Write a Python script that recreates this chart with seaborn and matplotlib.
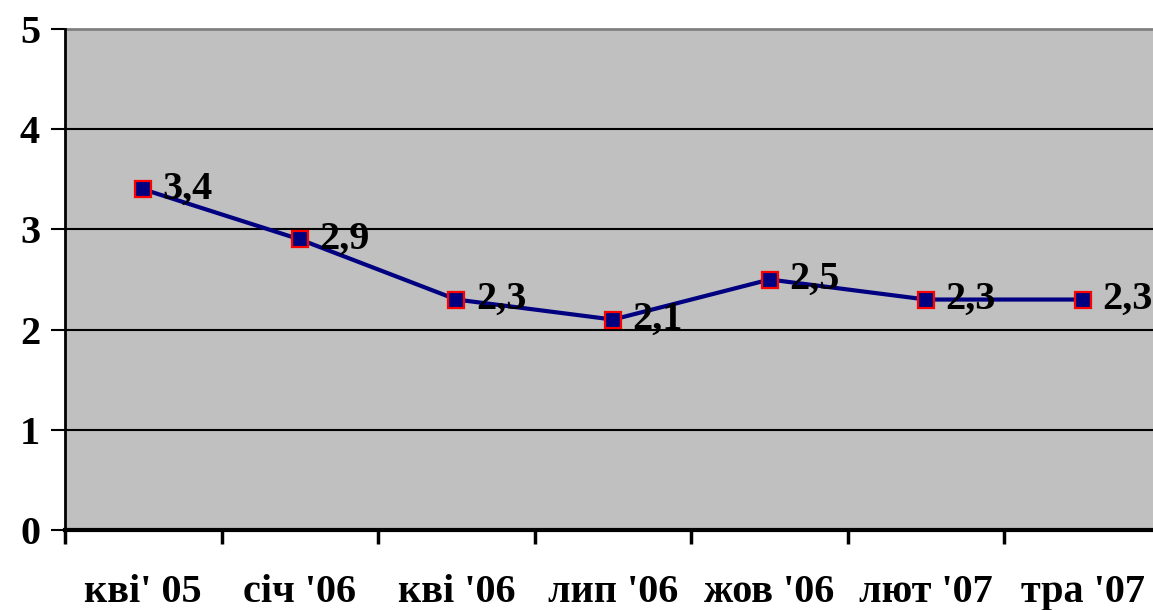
import numpy as np
import pandas as pd
import matplotlib
matplotlib.use("Agg")
import matplotlib.pyplot as plt
import seaborn as sns

# Dates and values of the series
periods = ["кві' 05", "січ '06", "кві '06", "лип '06", "жов '06", "лют '07", "тра '07"]
values = [3.4, 2.9, 2.3, 2.1, 2.5, 2.3, 2.3]
value_labels = ["3,4", "2,9", "2,3", "2,1", "2,5", "2,3", "2,3"]
y_ticks = [0, 1, 2, 3, 4, 5]

sns.set_style("white")
plt.rcParams["font.family"] = ["Liberation Serif", "DejaVu Serif"]
plt.rcParams["font.weight"] = "bold"
plt.rcParams["text.color"] = "black"
plt.rcParams["xtick.color"] = "black"
plt.rcParams["ytick.color"] = "black"
plt.rcParams["xtick.labelcolor"] = "black"
plt.rcParams["ytick.labelcolor"] = "black"

df = pd.DataFrame({"pos": np.arange(len(periods)), "value": values})

fig = plt.figure(figsize=(11.53, 6.10), dpi=100)
ax = fig.add_axes([65 / 1153, 80 / 610, 1096 / 1153, 501 / 610])
ax.set_facecolor("#C0C0C0")

sns.lineplot(data=df, x="pos", y="value", ax=ax, color="#000080", linewidth=3,
             marker="s", markersize=12, markerfacecolor="#000080",
             markeredgecolor="#FF0000", markeredgewidth=1.6, zorder=3)

for x, y, lab in zip(df["pos"], df["value"], value_labels):
    ax.annotate(lab, (x, y), xytext=(14, 0), textcoords="offset points",
                ha="left", va="center", fontsize=29, fontweight="bold",
                color="black", zorder=4, annotation_clip=False)

ax.set_xlim(-0.5, len(periods) - 0.5)
ax.set_ylim(0, 5)
ax.set_yticks(y_ticks)
ax.set_yticklabels([str(t) for t in y_ticks], fontsize=29, fontweight="bold")

# Ticks at category boundaries, labels at centers
ax.set_xticks(np.arange(len(periods) + 1) - 0.5)
ax.set_xticklabels([])
ax.set_xticks(np.arange(len(periods)), minor=True)
ax.set_xticklabels(periods, minor=True, fontsize=29, fontweight="bold")
ax.tick_params(axis="x", which="major", direction="out", length=10, width=2.5,
               color="black", bottom=True)
ax.tick_params(axis="x", which="minor", length=0, pad=32)
ax.tick_params(axis="y", direction="out", length=10, width=1.5, color="black",
               left=True, pad=8)

for t in y_ticks[1:-1]:
    ax.axhline(t, color="black", linewidth=1.5, zorder=1)

ax.set_xlabel("")
ax.set_ylabel("")
for side in ["top", "right"]:
    ax.spines[side].set_visible(False)
ax.axhline(5, color="#808080", linewidth=2, zorder=1, clip_on=False)
ax.spines["left"].set_color("black")
ax.spines["left"].set_linewidth(2)
ax.spines["bottom"].set_color("black")
ax.spines["bottom"].set_linewidth(3)

fig.savefig("out.png", dpi=100, facecolor="white")
